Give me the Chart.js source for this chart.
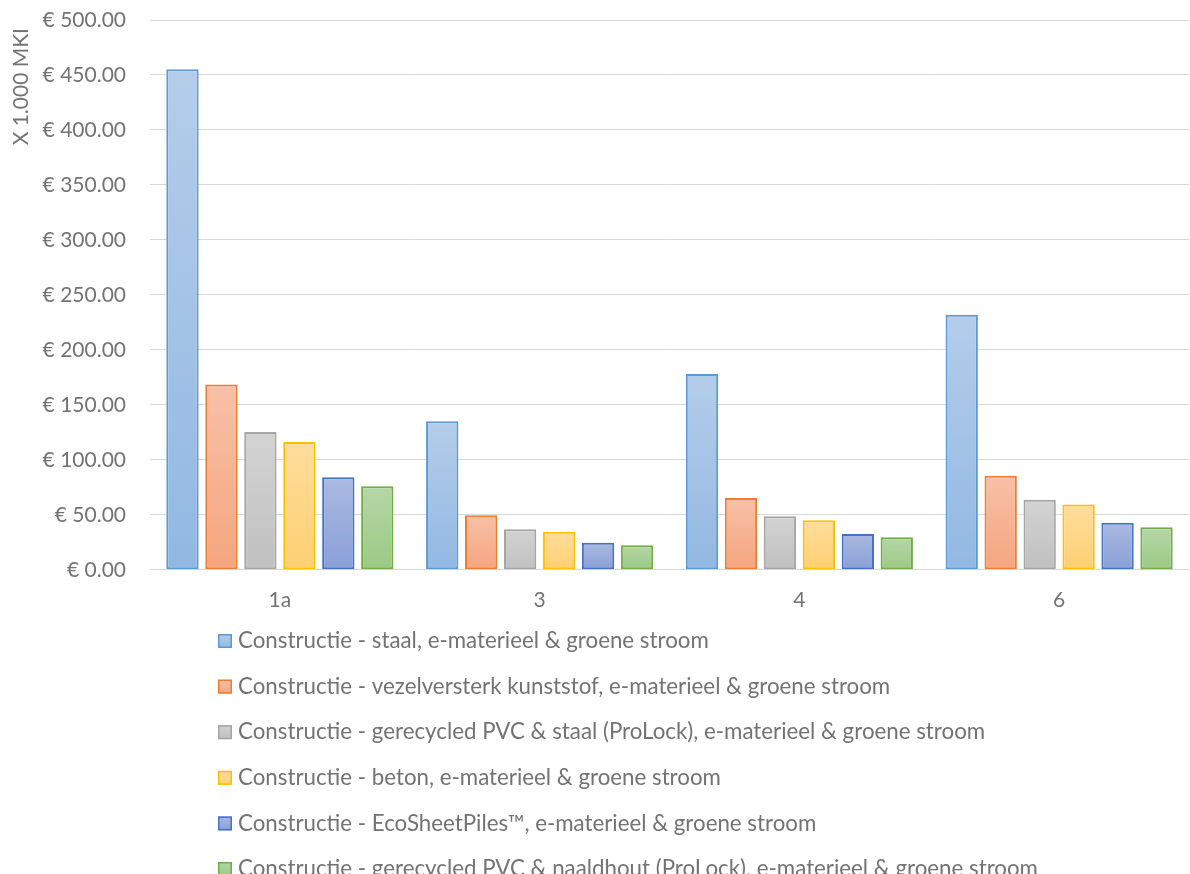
<!DOCTYPE html>
<html>
<head>
<meta charset="utf-8">
<script src="https://cdn.jsdelivr.net/npm/chart.js@4.4.0/dist/chart.umd.min.js"></script>
<style>
  html, body { margin: 0; padding: 0; background: #fff; }
  #wrap { width: 1190px; height: 874px; position: relative; }
</style>
</head>
<body>
<div id="wrap"><canvas id="chart"></canvas></div>
<script>
// categories on the x axis
const categories = ["1a", "3", "4", "6"];

// series names (legend)
const seriesNames = [
    "Constructie - staal, e-materieel & groene stroom",
    "Constructie - vezelversterk kunststof, e-materieel & groene stroom",
    "Constructie - gerecycled PVC & staal (ProLock), e-materieel & groene stroom",
    "Constructie - beton, e-materieel & groene stroom",
    "Constructie - EcoSheetPiles\u2122, e-materieel & groene stroom",
    "Constructie - gerecycled PVC & naaldhout (ProLock), e-materieel & groene stroom"
];

// values, x 1.000 MKI
const staal = [455.1, 135.1, 178.1, 232.0];
const vezel = [168.6, 49.7, 65.4, 85.5];
const pvcStaal = [125.3, 36.9, 48.7, 63.6];
const beton = [116.2, 34.5, 45.1, 59.4];
const ecoSheet = [84.1, 24.7, 32.6, 42.9];
const pvcHout = [75.9, 22.3, 29.5, 38.7];

// y axis ticks
const yMin = 0;
const yMax = 500;
const yStep = 50;
const yTitle = "X 1.000 MKI";

const fontFamily = "Lato, 'Open Sans', sans-serif";
const textColor = "#737373";

// border, gradient top, gradient bottom
const palette = [
    ["#5b9bd5", "#b4cdea", "#92b8e2"],
    ["#ed7d31", "#f8c0a7", "#f5a57f"],
    ["#a5a5a5", "#d3d3d3", "#c0c0c0"],
    ["#ffc000", "#ffdd9c", "#fdd072"],
    ["#4472c4", "#aab9e1", "#899fd7"],
    ["#70ad47", "#b6d6a8", "#9bc984"]
];

// each bar gets its own top-to-bottom gradient
function barFill(top, bottom) {
    return (context) => {
        const chart = context.chart;
        if (!chart.chartArea || context.type !== "data") return bottom;
        const y = chart.scales.y;
        const g = chart.ctx.createLinearGradient(0, y.getPixelForValue(context.raw), 0, y.getPixelForValue(0));
        g.addColorStop(0, top);
        g.addColorStop(1, bottom);
        return g;
    };
}

const values = [staal, vezel, pvcStaal, beton, ecoSheet, pvcHout];

const datasets = values.map((v, i) => ({
    label: seriesNames[i],
    data: v,
    backgroundColor: barFill(palette[i][1], palette[i][2]),
    borderColor: palette[i][0],
    borderWidth: 2,
    borderSkipped: false,
    categoryPercentage: 0.9,
    barPercentage: 0.83
}));

// legend drawn as one item per row under the axis, plus the axis title
const listLegend = {
    id: "listLegend",
    afterDraw(chart) {
        const c = chart.ctx;
        c.save();
        c.font = "22.3px " + fontFamily;
        c.textBaseline = "middle";
        c.textAlign = "left";
        chart.data.datasets.forEach((ds, i) => {
            const yc = 641 + i * 45.6;
            const x0 = 218, size = 14;
            const g = c.createLinearGradient(0, yc - size / 2, 0, yc + size / 2);
            g.addColorStop(0, palette[i][1]);
            g.addColorStop(1, palette[i][2]);
            c.fillStyle = g;
            c.fillRect(x0, yc - size / 2, size, size);
            c.strokeStyle = palette[i][0];
            c.lineWidth = 1.5;
            c.strokeRect(x0 + 0.75, yc - size / 2 + 0.75, size - 1.5, size - 1.5);
            c.fillStyle = textColor;
            c.fillText(ds.label, 238, yc);
        });

        // y axis title, upper left like the original
        c.translate(21, 28);
        c.rotate(-Math.PI / 2);
        c.font = "21px " + fontFamily;
        c.textAlign = "right";
        c.fillText(yTitle, 0, 0);
        c.restore();
    }
};

new Chart(document.getElementById("chart"), {
    type: "bar",
    data: { labels: categories, datasets: datasets },
    plugins: [listLegend],
    options: {
        responsive: true,
        maintainAspectRatio: false,
        animation: false,
        layout: { padding: { top: 20, right: 1, bottom: 251, left: 0 } },
        plugins: {
            legend: { display: false },
            tooltip: { enabled: false }
        },
        scales: {
            x: {
                grid: { display: false },
                border: { display: false },
                ticks: { color: textColor, font: { family: fontFamily, size: 21 }, padding: 10 }
            },
            y: {
                min: yMin,
                max: yMax,
                border: { display: false },
                grid: { color: "#d9d9d9", lineWidth: 1, drawTicks: false },
                ticks: {
                    stepSize: yStep,
                    padding: 24,
                    color: textColor,
                    font: { family: fontFamily, size: 21 },
                    callback: (value) => "\u20ac " + value.toFixed(2)
                },
                afterFit: (scale) => {
                    scale.width = 150;
                    scale.paddingTop = 0;
                    scale.paddingBottom = 0;
                }
            }
        }
    }
});
</script>
</body>
</html>
